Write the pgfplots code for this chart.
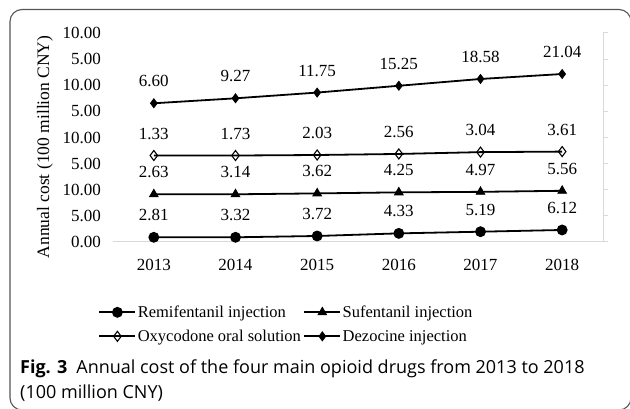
\documentclass[border=0pt]{standalone}
\usepackage{pgfplots}
\usepackage{pgfplotstable}
\pgfplotsset{compat=1.18}
\usepackage{fontspec}
\setmainfont{Liberation Serif}
\newfontfamily\capfont{Open Sans}
\definecolor{axgray}{HTML}{D9D9D9}
\definecolor{framegray}{HTML}{555555}

% plotted height on the stacked scale, and the printed value
\pgfplotstableread{
year y lab
2013 0.90 2.81
2014 0.90 3.32
2015 1.15 3.72
2016 1.65 4.33
2017 1.97 5.19
2018 2.30 6.12
}\remi
\pgfplotstableread{
year y lab
2013 9.13 2.63
2014 9.13 3.14
2015 9.30 3.62
2016 9.50 4.25
2017 9.60 4.97
2018 9.80 5.56
}\sufe
\pgfplotstableread{
year y lab
2013 16.55 1.33
2014 16.55 1.73
2015 16.65 2.03
2016 16.85 2.56
2017 17.20 3.04
2018 17.30 3.61
}\oxy
\pgfplotstableread{
year y lab
2013 26.55 6.60
2014 27.50 9.27
2015 28.60 11.75
2016 29.90 15.25
2017 31.20 18.58
2018 32.15 21.04
}\dez

\begin{document}
\begin{tikzpicture}
% light grey bottom and right axis lines
\begin{axis}[
  at={(113pt,167pt)}, anchor=south west,
  scale only axis, width=490pt, height=209pt,
  xmin=2012.5, xmax=2018.5, ymin=0, ymax=40,
  axis x line*=bottom, axis y line*=right,
  xtick=\empty, ytick={0,5,...,40}, yticklabels={},
  tick align=outside, major tick length=5pt,
  axis line style={axgray, line width=1pt},
  tick style={axgray, line width=1pt},
]
\end{axis}
\begin{axis}[
  at={(113pt,167pt)}, anchor=south west,
  scale only axis, width=490pt, height=209pt,
  xmin=2012.5, xmax=2018.5, ymin=0, ymax=40,
  xtick={2013,...,2018}, xticklabels={2013,2014,2015,2016,2017,2018},
  ytick={0,5,...,40},
  yticklabels={0.00,5.00,10.00,5.00,10.00,5.00,10.00,5.00,10.00},
  axis line style={draw=none}, major tick length=0pt,
  tick label style={font=\fontsize{17}{20}\selectfont, inner sep=0pt},
  yticklabel style={anchor=east, xshift=-12pt},
  xticklabel style={anchor=north, yshift=-17pt},
  ylabel={Annual cost (100 million CNY)},
  ylabel style={font=\fontsize{17.5}{20}\selectfont,
    at={(axis description cs:-0.139,0.455)}, anchor=center, inner sep=0pt},
  every axis plot/.append style={black, line width=1.8pt},
  nodes near coords, point meta=explicit symbolic,
  every node near coord/.append style={font=\fontsize{17}{20}\selectfont,
    anchor=center, yshift=22pt, inner sep=0pt},
  legend columns=2, legend cell align=left,
  legend style={at={(axis description cs:-0.03,-0.297)}, anchor=north west,
    draw=none, fill=none, inner sep=0pt, row sep=8pt,
    font=\fontsize{16.5}{20}\selectfont,
    nodes={inner sep=1.5pt, anchor=west},
    /tikz/every even column/.append style={column sep=1pt}},
  legend image code/.code={
    \draw[mark repeat=2, mark phase=2, #1]
      plot coordinates {(0pt,0pt) (18pt,0pt) (36pt,0pt)};},
]
\addplot[mark=*, mark size=4.5pt, mark options={solid}] table[x=year, y=y, meta=lab] {\remi};
\addlegendentry{Remifentanil injection}
\addplot[mark=triangle*, mark size=5pt, mark options={solid, line width=0.8pt}] table[x=year, y=y, meta=lab] {\sufe};
\addlegendentry{Sufentanil injection}
\addplot[mark=diamond, mark size=5pt, mark options={solid, fill=white, line width=1.1pt}] table[x=year, y=y, meta=lab] {\oxy};
\addlegendentry{Oxycodone oral solution}
\addplot[mark=diamond*, mark size=4.5pt, mark options={solid, line width=0.8pt}] table[x=year, y=y, meta=lab] {\dez};
\addlegendentry{Dezocine injection}
\end{axis}
% figure frame and caption
\draw[framegray, line width=1.1pt, rounded corners=12pt] (10pt,-1pt) rectangle (631pt,399.5pt);
\node[anchor=base west, inner sep=0pt, font=\capfont\fontsize{18}{20}\selectfont]
  at (20pt,35pt) {\textbf{Fig. 3}\hspace{0.5em}Annual cost of the four main opioid drugs from 2013 to 2018};
\node[anchor=base west, inner sep=0pt, font=\capfont\fontsize{18}{20}\selectfont]
  at (20pt,10pt) {(100 million CNY)};
\pgfresetboundingbox
\path[use as bounding box] (0pt,0pt) rectangle (630pt,409pt);
\end{tikzpicture}
\end{document}
